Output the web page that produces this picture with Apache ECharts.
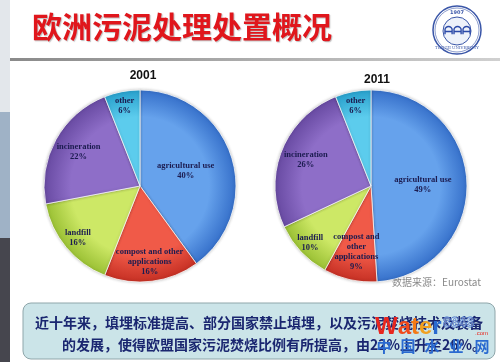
<!DOCTYPE html>
<html><head><meta charset="utf-8">
<script src="https://cdn.jsdelivr.net/npm/echarts@6/dist/echarts.min.js"></script>
<style>html,body{margin:0;padding:0;background:#fff}#c{width:500px;height:362px}</style>
</head><body><div id="c"></div>
<script>
// ---- data ----
const categories = ['agricultural use', 'compost and other applications', 'landfill', 'incineration', 'other'];
const values2001 = [40, 16, 16, 22, 6];
const values2011 = [49, 9, 10, 26, 6];
const years = ['2001', '2011'];
const slideTitle = '欧洲污泥处理处置概况';
const sourceNote = '数据来源：Eurostat';
const noteLines = ['近十年来，填埋标准提高、部分国家禁止填埋，以及污泥焚烧技术及装备',
                   '的发展，使得欧盟国家污泥焚烧比例有所提高，由22%上升至26%。'];
const watermarkChars = ['中', '国', '水', '业', '网'];

// ---- style / layout ----
const R = 96;
const pies = [
  {cx: 140, cy: 186, values: values2001, fracs: [0.5, 0.8, 0.84, 0.73, 0.85],
   wrap: {'compost and other applications': 'compost and other\napplications'}},
  {cx: 371, cy: 186, values: values2011, fracs: [0.54, 0.7, 0.87, 0.73, 0.85],
   wrap: {'compost and other applications': 'compost and\nother\napplications'}}
];
const sliceColors = [
  ['#66a2ec', '#3670ca'],
  ['#f05a48', '#c63024'],
  ['#cde866', '#9ac034'],
  ['#8e6ec8', '#684aa2'],
  ['#5ccced', '#28a0cc']
];
const wmX = [384, 408, 432, 456, 482];

function grad(cx, cy, c) {
  return {type: 'radial', x: cx, y: cy, r: R, global: true,
    colorStops: [{offset: 0, color: c[0]}, {offset: 0.72, color: c[0]}, {offset: 1, color: c[1]}]};
}
function mkLayout(p) {
  return function (params) {
    const lr = params.labelRect;
    const mx = lr.x + lr.width / 2, my = lr.y + lr.height / 2;
    const dx = mx - p.cx, dy = my - p.cy;
    const d = Math.sqrt(dx * dx + dy * dy) || 1;
    const f = p.fracs[params.dataIndex];
    return {x: p.cx + dx / d * f * R, y: p.cy + dy / d * f * R};
  };
}

const series = pies.map(p => ({
  type: 'pie',
  center: [p.cx, p.cy],
  radius: [0, R],
  startAngle: 90,
  clockwise: true,
  silent: true,
  animation: false,
  data: categories.map((name, i) => ({
    name: name, value: p.values[i],
    itemStyle: {color: grad(p.cx, p.cy, sliceColors[i])}
  })),
  itemStyle: {borderColor: 'rgba(255,255,255,0.75)', borderWidth: 1,
    shadowBlur: 3, shadowColor: 'rgba(0,0,0,0.25)'},
  label: {
    show: true, position: 'inside',
    formatter: (prm) => (p.wrap[prm.name] || prm.name) + '\n' + prm.value + '%',
    fontFamily: '"Liberation Serif", serif', fontWeight: 'bold', fontSize: 8.5,
    lineHeight: 10, color: '#1c1c50', align: 'center'
  },
  labelLine: {show: false},
  labelLayout: mkLayout(p)
}));

const graphics = [
  {type: 'rect', shape: {x: 0, y: 0, width: 10, height: 112}, style: {fill: '#e3e7eb'}, silent: true},
  {type: 'rect', shape: {x: 0, y: 112, width: 10, height: 126}, style: {fill: '#9fb2c6'}, silent: true},
  {type: 'rect', shape: {x: 0, y: 238, width: 10, height: 124}, style: {fill: '#46464e'}, silent: true},
  {type: 'rect', shape: {x: 10, y: 58, width: 490, height: 3}, silent: true,
   style: {fill: {type: 'linear', x: 0, y: 0, x2: 1, y2: 0,
     colorStops: [{offset: 0, color: '#8a8a8a'}, {offset: 1, color: '#d0d0d0'}]}}},
  {type: 'text', x: 32, y: 27, silent: true,
   style: {text: slideTitle, fill: '#e0161c', font: 'bold 30px "Noto Sans CJK SC"',
     verticalAlign: 'middle', textShadowColor: 'rgba(0,0,0,0.25)', textShadowOffsetX: 1, textShadowOffsetY: 1, textShadowBlur: 1}},
  // logo
  {type: 'circle', shape: {cx: 457, cy: 30, r: 24}, silent: true, style: {fill: '#fff', stroke: '#3a56a8', lineWidth: 1.5}},
  {type: 'circle', shape: {cx: 457, cy: 30, r: 22}, silent: true, style: {fill: 'none', stroke: '#3a56a8', lineWidth: 0.6}},
  {type: 'circle', shape: {cx: 457, cy: 31, r: 14}, silent: true, style: {fill: '#eef2fa', stroke: '#3a56a8', lineWidth: 1}},
  {type: 'text', x: 457, y: 13, silent: true, style: {text: '1907', fill: '#3a56a8', font: 'bold 5px "DejaVu Sans"', align: 'center', verticalAlign: 'middle'}},
  {type: 'text', x: 457, y: 48, silent: true, style: {text: 'TONGJI UNIVERSITY', fill: '#3a56a8', font: '4px "DejaVu Serif"', align: 'center', verticalAlign: 'middle'}},
  {type: 'text', x: 457, y: 31, silent: true, style: {text: 'ᗩᗩᗩ', fill: '#2c4aa8', font: 'bold 11px "DejaVu Sans"', align: 'center', verticalAlign: 'middle'}},
  // source
  {type: 'text', x: 392, y: 282, silent: true,
   style: {text: sourceNote, fill: '#8a8a8a', font: '10px "Noto Sans CJK SC"', verticalAlign: 'middle'}},
  // bottom box
  {type: 'rect', shape: {x: 23, y: 303, width: 472, height: 56, r: 8}, silent: true,
   style: {fill: '#cbe4e8', stroke: '#8fa6aa', lineWidth: 1}},
  {type: 'text', x: 35, y: 323, silent: true,
   style: {text: noteLines[0], fill: '#1a2670', font: 'bold 14px "Noto Sans CJK SC"', verticalAlign: 'middle'}},
  {type: 'text', x: 62, y: 345, silent: true,
   style: {text: noteLines[1], fill: '#1a2670', font: 'bold 14px "Noto Sans CJK SC"', verticalAlign: 'middle'}},
  // watermark
  {type: 'text', x: 375, y: 327, silent: true,
   style: {text: '{a|W}{b|a}{c|t}{d|e}{e|r}', verticalAlign: 'middle',
     rich: {a: {fill: '#e8261e', font: 'bold 24px "Liberation Sans"'},
            b: {fill: '#f04a1c', font: 'bold 24px "Liberation Sans"'},
            c: {fill: '#f47a16', font: 'bold 24px "Liberation Sans"'},
            d: {fill: '#f0a020', font: 'bold 24px "Liberation Sans"'},
            e: {fill: '#2a6ad0', font: 'bold 24px "Liberation Sans"'}}}},
  {type: 'text', x: 443, y: 323, silent: true,
   style: {text: '8848', fill: 'rgba(255,255,255,0.3)', stroke: '#3a6ac8', lineWidth: 0.8, font: 'bold 14px "Liberation Sans"', verticalAlign: 'middle'}},
  {type: 'text', x: 475, y: 333, silent: true,
   style: {text: '.com', fill: '#e8261e', font: '6px "Liberation Sans"', verticalAlign: 'middle'}}
];
watermarkChars.forEach((ch, i) => graphics.push({
  type: 'text', x: wmX[i], y: 346, silent: true,
  style: {text: ch, fill: '#2a6ad0', font: 'bold 15px "Noto Sans CJK SC"', align: 'center', verticalAlign: 'middle'}
}));

const chart = echarts.init(document.getElementById('c'), null, {renderer: 'canvas'});
chart.setOption({
  backgroundColor: '#ffffff',
  animation: false,
  title: [
    {text: years[0], left: 138, top: 65, textAlign: 'center',
     textStyle: {fontFamily: '"Liberation Sans", Arial', fontWeight: 'bold', fontSize: 12, color: '#111'}},
    {text: years[1], left: 372, top: 69, textAlign: 'center',
     textStyle: {fontFamily: '"Liberation Sans", Arial', fontWeight: 'bold', fontSize: 12, color: '#111'}}
  ],
  series: series,
  graphic: graphics
});
</script>
</body></html>
